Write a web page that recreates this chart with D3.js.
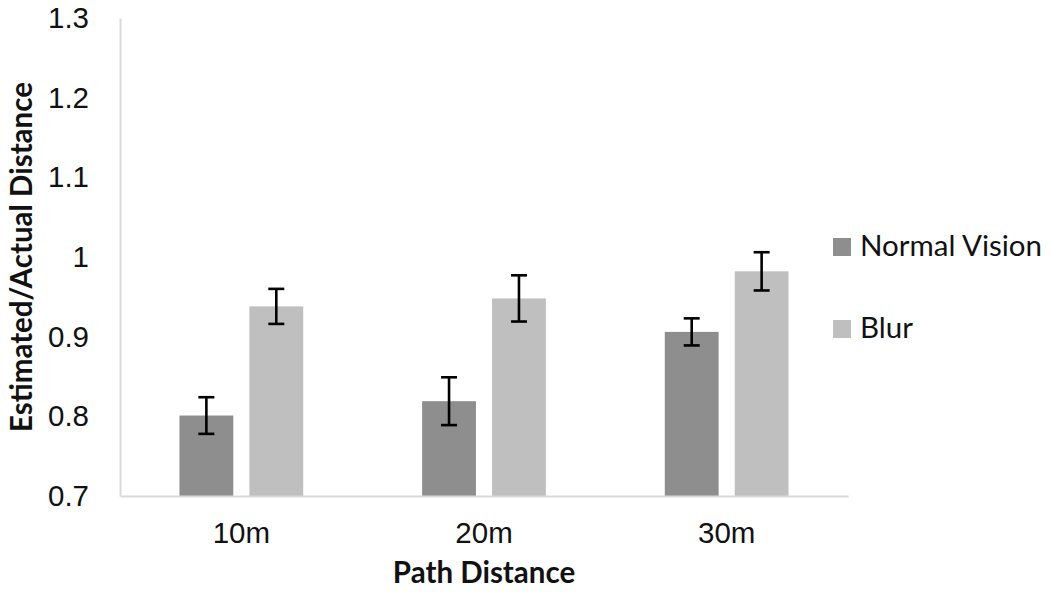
<!DOCTYPE html>
<html>
<head>
<meta charset="utf-8">
<script src="https://cdn.jsdelivr.net/npm/d3@7"></script>
<style>
  body { margin: 0; background: #fff; }
  svg { font-family: Lato, "Open Sans", sans-serif; }
</style>
</head>
<body>
<svg id="chart"></svg>
<script>
// data
var categories = ["10m", "20m", "30m"]
var seriesNames = ["Normal Vision", "Blur"]
var normalVision = [0.801, 0.819, 0.906]
var blur = [0.938, 0.948, 0.982]
var normalErr = [0.023, 0.030, 0.017]
var blurErr = [0.022, 0.029, 0.024]
var yTicks = [0.7, 0.8, 0.9, 1, 1.1, 1.2, 1.3]

var width = 1050
var height = 592
var margin = { top: 18, left: 120, right: 202, bottom: 96 }
var colors = ["#8e8e8e", "#bfbfbf"]
var fontSize = 29.5

var svg = d3.select("#chart").attr("width", width).attr("height", height)

var x = d3.scaleBand()
  .domain(categories)
  .range([margin.left, width - margin.right])
  .paddingInner(0.49)
  .paddingOuter(0.245)

var xSub = d3.scaleBand()
  .domain(seriesNames)
  .range([0, x.bandwidth()])
  .paddingInner(0.23)

var y = d3.scaleLinear()
  .domain([0.7, 1.3])
  .range([height - margin.bottom, margin.top])

// build rows for bars
var rows = []
categories.forEach((c, i) => {
  rows.push({ cat: c, series: "Normal Vision", value: normalVision[i], err: normalErr[i], color: colors[0] })
  rows.push({ cat: c, series: "Blur", value: blur[i], err: blurErr[i], color: colors[1] })
})

// bars
svg.append("g").selectAll("rect").data(rows).enter().append("rect")
  .attr("x", d => x(d.cat) + xSub(d.series))
  .attr("width", xSub.bandwidth())
  .attr("y", d => y(d.value))
  .attr("height", d => y(0.7) - y(d.value))
  .attr("fill", d => d.color)

// axes (just the lines, excel style)
var yAxis = d3.axisLeft(y).tickValues(yTicks).tickSize(0).tickPadding(31)
  .tickFormat(d => d3.format("")(+d.toFixed(1)))
var gy = svg.append("g").attr("transform", `translate(${margin.left},0)`).call(yAxis)
gy.select(".domain").attr("stroke", "#d9d9d9").attr("stroke-width", 2)
gy.selectAll("text").attr("font-size", fontSize).attr("fill", "#111")

var xAxis = d3.axisBottom(x).tickSize(0).tickPadding(26)
var gx = svg.append("g").attr("transform", `translate(0,${y(0.7)})`).call(xAxis)
gx.select(".domain").attr("stroke", "#d9d9d9").attr("stroke-width", 2)
gx.selectAll("text").attr("font-size", fontSize).attr("fill", "#111")

// error bars
var eb = svg.append("g").attr("stroke", "#000").attr("stroke-width", 2.6)
var cx = d => x(d.cat) + xSub(d.series) + xSub.bandwidth() / 2
eb.selectAll(".v").data(rows).enter().append("line")
  .attr("x1", cx).attr("x2", cx)
  .attr("y1", d => y(d.value + d.err)).attr("y2", d => y(d.value - d.err))
eb.selectAll(".t").data(rows).enter().append("line")
  .attr("x1", d => cx(d) - 8).attr("x2", d => cx(d) + 8)
  .attr("y1", d => y(d.value + d.err)).attr("y2", d => y(d.value + d.err))
eb.selectAll(".b").data(rows).enter().append("line")
  .attr("x1", d => cx(d) - 8).attr("x2", d => cx(d) + 8)
  .attr("y1", d => y(d.value - d.err)).attr("y2", d => y(d.value - d.err))

// axis titles, centred on the plot area like excel does
svg.append("text")
  .attr("transform", `translate(32,${(y(0.7) + y(1.3)) / 2}) rotate(-90)`)
  .attr("text-anchor", "middle")
  .attr("font-weight", "bold")
  .attr("font-size", fontSize)
  .attr("fill", "#111")
  .text("Estimated/Actual Distance")

svg.append("text")
  .attr("x", x("20m") + x.bandwidth() / 2)
  .attr("y", 583)
  .attr("text-anchor", "middle")
  .attr("font-weight", "bold")
  .attr("font-size", fontSize)
  .attr("fill", "#111")
  .text("Path Distance")

// legend
var legend = svg.append("g").selectAll("g").data(seriesNames).enter().append("g")
  .attr("transform", (d, i) => `translate(833,${238 + i * 82})`)
legend.append("rect").attr("width", 18).attr("height", 18).attr("fill", (d, i) => colors[i])
legend.append("text").attr("x", 27).attr("y", 18)
  .attr("font-size", fontSize).attr("fill", "#111")
  .text(d => d)
</script>
</body>
</html>
